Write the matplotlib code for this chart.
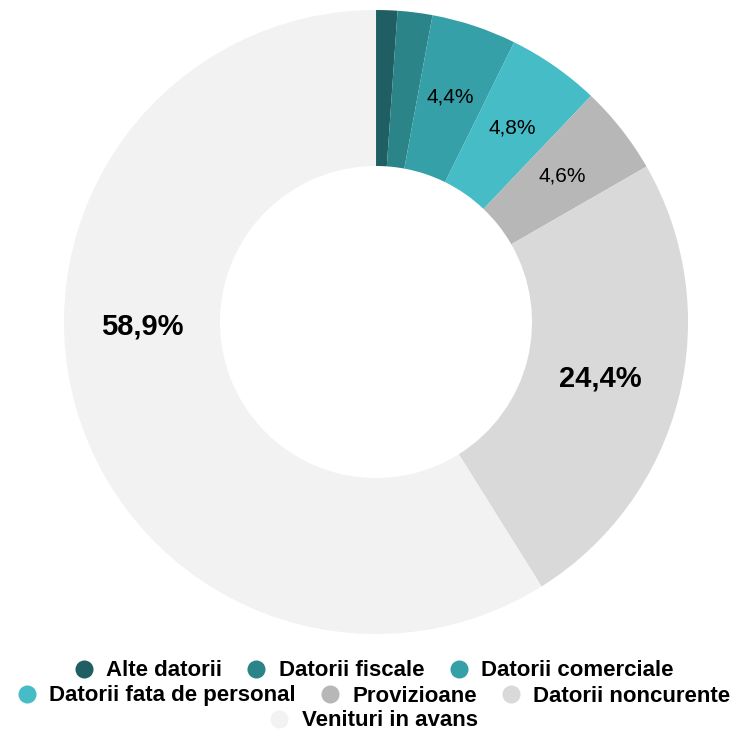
import numpy as np
import matplotlib.pyplot as plt
from matplotlib.lines import Line2D

plt.rcParams['font.family'] = ['Liberation Sans', 'DejaVu Sans']

categories = ['Alte datorii', 'Datorii fiscale', 'Datorii comerciale',
              'Datorii fata de personal', 'Provizioane', 'Datorii noncurente',
              'Venituri in avans']
values = [1.1, 1.8, 4.4, 4.8, 4.6, 24.4, 58.9]
colors = ['#1f5f63', '#2a8488', '#35a0a8', '#46bcc6', '#b7b7b7', '#d9d9d9', '#f2f2f2']
# rows of the legend as drawn in the original
legend_rows = [[0, 1, 2], [3, 4, 5], [6]]

fig = plt.figure(figsize=(7.46, 7.31), dpi=100)
ax = fig.add_axes([0.0858, 0.1327, 0.8365, 0.8536])
wedges, _ = ax.pie(values, colors=colors, startangle=90, counterclock=False,
                   radius=1, wedgeprops=dict(width=0.5, linewidth=0))
ax.set_xlim(-1, 1)
ax.set_ylim(-1, 1)
ax.set_aspect('auto')

# percentage labels
for i, w in enumerate(wedges):
    if values[i] < 3:
        continue
    ang = np.deg2rad((w.theta1 + w.theta2) / 2)
    r = 0.76
    big = values[i] > 20
    if big:
        r = 0.74
    if categories[i] == 'Venituri in avans':
        ang = np.deg2rad(181)  # label sits left of the hole in the original
        r = 0.75
    ax.text(r * np.cos(ang), r * np.sin(ang), f'{values[i]:.1f}%'.replace('.', ','),
            ha='center', va='center', fontsize=21 if big else 15,
            fontweight='bold' if big else 'medium', color='black')

# legend, one centred row at a time
ys = [1 - 671 / 731, 1 - 696 / 731, 1 - 721 / 731]
for row, y in zip(legend_rows, ys):
    handles = [Line2D([], [], marker='o', linestyle='', markersize=13,
                      markerfacecolor=colors[i], markeredgewidth=0) for i in row]
    fig.legend(handles, [categories[i] for i in row], loc='center',
               bbox_to_anchor=(0.5, y), ncol=len(row), frameon=False,
               prop=dict(weight='bold', size=16), handlelength=1.0,
               handletextpad=0.5, columnspacing=1.05, borderpad=0, borderaxespad=0)

fig.savefig('out.png', dpi=100)
